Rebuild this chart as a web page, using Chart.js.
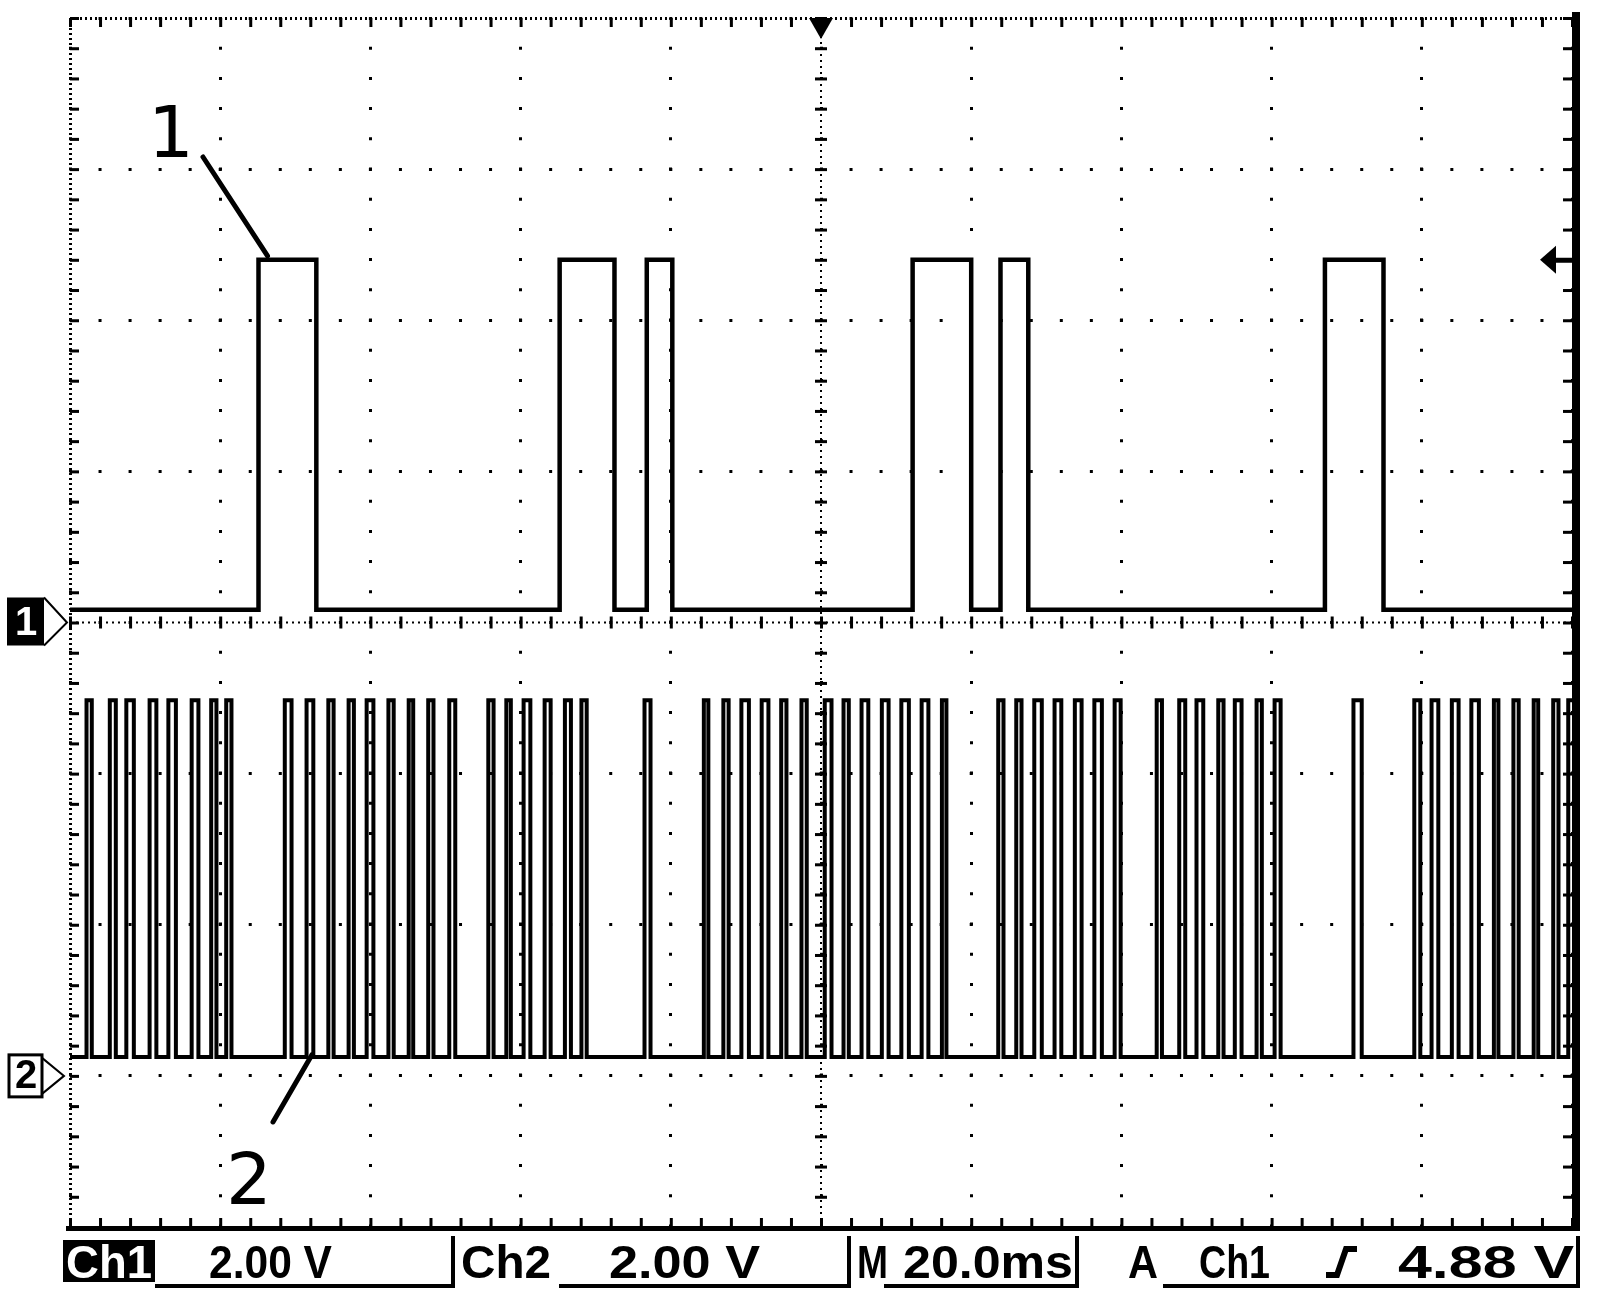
<!DOCTYPE html>
<html>
<head>
<meta charset="utf-8">
<script src="https://cdn.jsdelivr.net/npm/chart.js@4.4.1/dist/chart.umd.min.js"></script>
<style>
  html, body { margin: 0; padding: 0; background: #fff; }
  #wrap { position: relative; width: 1600px; height: 1308px; }
</style>
</head>
<body>
<div id="wrap"><canvas id="scope"></canvas></div>
<script>
// scope settings: 20 ms/div over 10 divs, 2.00 V/div over 8 divs
const timeTicks = [0, 20, 40, 60, 80, 100, 120, 140, 160, 180, 200];
const voltTicks = [-8, -6, -4, -2, 0, 2, 4, 6, 8];
const triggerTime = 100;
const triggerLevel = 4.88;

// channel 1: [rise, fall] in ms
const ch1Pulses = [[25.1, 32.8], [65.2, 72.5], [76.8, 80.2], [112.2, 120.0], [123.9, 127.6], [167.1, 174.9]];
const ch1Low = 0.17;
const ch1High = 4.8;

// channel 2: [rise, fall] in ms
const ch2Pulses = [
  [2.2, 2.9], [5.3, 6.1], [7.5, 8.5], [10.6, 11.5], [13.1, 14.1], [16.2, 17.1], [18.8, 19.5], [20.8, 21.5],
  [28.6, 29.5], [31.5, 32.4], [34.4, 35.1], [37.1, 37.8], [39.5, 40.4], [42.4, 43.1], [45.1, 45.7], [47.7, 48.4], [50.5, 51.3],
  [55.7, 56.4], [58.1, 58.7], [60.4, 61.3], [63.2, 64.0], [65.9, 66.7], [68.1, 68.8],
  [76.5, 77.3],
  [84.4, 85.0], [87.0, 87.7], [89.4, 90.4], [92.1, 93.0], [94.7, 95.4], [97.4, 98.1], [100.5, 101.4], [103.0, 103.7],
  [105.4, 106.3], [108.1, 109.0], [110.7, 111.7], [113.4, 114.3], [116.1, 116.7],
  [123.6, 124.3], [126.0, 126.7], [128.4, 129.4], [131.1, 132.0], [133.8, 134.7], [136.4, 137.4], [139.1, 139.9],
  [144.7, 145.4], [147.7, 148.5], [150.0, 150.9], [152.9, 153.6], [155.1, 156.0], [158.0, 158.7], [160.4, 161.2],
  [170.9, 172.0],
  [179.0, 179.8], [181.3, 182.2], [184.0, 184.9], [186.6, 187.6], [189.6, 190.2], [192.2, 192.9], [194.9, 195.5], [197.5, 198.2], [199.5, 200]
];
const ch2Low = 0.25;
const ch2High = 4.97;
const ch2Offset = -6; // ground marker 3 divisions below centre

const statusText = ["Ch1", "2.00 V", "Ch2", "2.00 V", "M", "20.0ms", "A", "Ch1", "4.88 V"];

function toTrace(pulses, lo, hi, off) {
  const end = timeTicks[timeTicks.length - 1];
  const pts = [{x: 0, y: lo + off}];
  let high = false;
  pulses.forEach(([r, f]) => {
    pts.push({x: r, y: lo + off}, {x: r, y: hi + off});
    if (f < end) {
      pts.push({x: f, y: hi + off}, {x: f, y: lo + off});
    } else {
      pts.push({x: end, y: hi + off});
      high = true;
    }
  });
  if (!high) pts.push({x: end, y: lo + off});
  return pts;
}

function fitText(ctx, str, x1, x2, base, font, color) {
  ctx.font = font;
  const w = ctx.measureText(str).width;
  ctx.save();
  ctx.translate(x1, base);
  ctx.scale((x2 - x1) / w, 1);
  ctx.fillStyle = color;
  ctx.textAlign = 'left';
  ctx.textBaseline = 'alphabetic';
  ctx.fillText(str, 0, 0);
  ctx.restore();
}

const scopeDecor = {
  id: 'scopeDecor',
  afterDatasetsDraw(chart) {
    const {ctx, chartArea: a, scales: {x, y}} = chart;
    const minX = (a.right - a.left) / 50;
    const minY = (a.bottom - a.top) / 40;
    const cx = x.getPixelForValue(triggerTime);
    const cy = y.getPixelForValue(0);
    ctx.save();
    ctx.fillStyle = '#000';

    // centre lines: fine dots + minor ticks
    for (let yy = a.top; yy <= a.bottom; yy += 6) ctx.fillRect(cx - 1, yy, 2, 2);
    for (let i = 0; i <= 40; i++) ctx.fillRect(cx - 6, a.top + i * minY - 1, 12, 3);
    for (let xx = a.left; xx <= a.right; xx += 6) ctx.fillRect(xx, cy - 1, 2, 2);
    for (let i = 0; i <= 50; i++) ctx.fillRect(a.left + i * minX - 1, cy - 6, 3, 12);

    // left and top borders
    for (let yy = a.top; yy <= a.bottom; yy += 5) ctx.fillRect(a.left - 1, yy, 3, 2);
    for (let i = 0; i <= 40; i++) ctx.fillRect(a.left, a.top + i * minY - 1, 9, 3);
    for (let xx = a.left; xx <= a.right; xx += 5) ctx.fillRect(xx, a.top - 1, 2, 3);
    for (let i = 0; i <= 50; i++) ctx.fillRect(a.left + i * minX - 1, a.top, 3, 9);

    // right and bottom borders (solid)
    ctx.fillRect(a.right, a.top - 6, 8, a.bottom - a.top + 10);
    for (let i = 0; i <= 40; i++) ctx.fillRect(a.right - 9, a.top + i * minY - 1, 9, 3);
    ctx.fillRect(a.left - 4, a.bottom - 1, a.right - a.left + 12, 5);
    for (let i = 0; i <= 50; i++) ctx.fillRect(a.left + i * minX - 1, a.bottom - 9, 3, 9);

    // trigger position marker
    ctx.beginPath();
    ctx.moveTo(cx - 12, a.top);
    ctx.lineTo(cx + 12, a.top);
    ctx.lineTo(cx, a.top + 21);
    ctx.closePath();
    ctx.fill();

    // trigger level arrow
    const ty = y.getPixelForValue(triggerLevel) + 6;
    ctx.beginPath();
    ctx.moveTo(a.right - 32, ty);
    ctx.lineTo(a.right - 16, ty - 14);
    ctx.lineTo(a.right - 16, ty + 14);
    ctx.closePath();
    ctx.fill();
    ctx.fillRect(a.right - 17, ty - 2, 17, 5);

    // channel 1 ground marker
    ctx.fillRect(7, cy - 25, 37, 48);
    ctx.lineWidth = 2;
    ctx.strokeStyle = '#000';
    ctx.beginPath();
    ctx.moveTo(44, cy - 25);
    ctx.lineTo(a.left - 3, cy);
    ctx.lineTo(44, cy + 23);
    ctx.stroke();
    ctx.font = 'bold 40px "Liberation Sans Narrow", "Liberation Sans"';
    ctx.fillStyle = '#fff';
    ctx.textAlign = 'center';
    ctx.textBaseline = 'middle';
    ctx.fillText('1', 26, cy + 1);

    // channel 2 ground marker
    const c2 = y.getPixelForValue(ch2Offset);
    ctx.lineWidth = 3;
    ctx.strokeRect(9, c2 - 21, 33, 42);
    ctx.lineWidth = 2;
    ctx.beginPath();
    ctx.moveTo(42, c2 - 18);
    ctx.lineTo(a.left - 6, c2);
    ctx.lineTo(42, c2 + 18);
    ctx.stroke();
    ctx.fillStyle = '#000';
    ctx.fillText('2', 26, c2 + 1);

    // trace labels with leader lines
    ctx.lineWidth = 5;
    ctx.lineCap = 'round';
    ctx.beginPath();
    ctx.moveTo(203, 157);
    ctx.lineTo(x.getPixelForValue(ch1Pulses[0][0]) + 9, y.getPixelForValue(ch1High) - 4);
    ctx.moveTo(273, 1122);
    ctx.lineTo(x.getPixelForValue(32.2), y.getPixelForValue(ch2Low + ch2Offset) - 2);
    ctx.stroke();
    ctx.font = '72px "DejaVu Sans", "Liberation Sans"';
    ctx.textAlign = 'left';
    ctx.textBaseline = 'alphabetic';
    ctx.fillText('1', 148, 157);
    ctx.fillText('2', 226, 1204);

    // status bar
    const f = 'bold 46px "Liberation Sans Narrow", "Liberation Sans"';
    ctx.fillRect(63, 1240, 92, 42);
    fitText(ctx, statusText[0], 66, 152, 1278, f, '#fff');
    fitText(ctx, statusText[1], 209, 332, 1278, f, '#000');
    fitText(ctx, statusText[2], 461, 551, 1278, f, '#000');
    fitText(ctx, statusText[3], 609, 760, 1278, f, '#000');
    fitText(ctx, statusText[4], 857, 888, 1278, f, '#000');
    fitText(ctx, statusText[5], 903, 1073, 1278, f, '#000');
    fitText(ctx, statusText[6], 1128, 1158, 1278, f, '#000');
    fitText(ctx, statusText[7], 1199, 1270, 1278, f, '#000');
    fitText(ctx, statusText[8], 1398, 1574, 1278, f, '#000');
    ctx.fillStyle = '#000';
    ctx.fillRect(155, 1284, 299, 4);
    ctx.fillRect(451, 1236, 4, 52);
    ctx.fillRect(559, 1284, 292, 4);
    ctx.fillRect(847, 1236, 4, 52);
    ctx.fillRect(884, 1284, 194, 4);
    ctx.fillRect(1075, 1236, 4, 52);
    ctx.fillRect(1163, 1284, 417, 4);
    ctx.fillRect(1576, 1236, 4, 52);
    // rising-edge slope symbol
    ctx.lineWidth = 6;
    ctx.lineCap = 'butt';
    ctx.beginPath();
    ctx.moveTo(1326, 1275);
    ctx.lineTo(1337, 1275);
    ctx.lineTo(1346, 1249);
    ctx.lineTo(1357, 1249);
    ctx.stroke();
    ctx.restore();
  }
};

new Chart(document.getElementById('scope'), {
  type: 'line',
  data: {
    datasets: [
      {
        label: 'Ch1',
        data: toTrace(ch1Pulses, ch1Low, ch1High, 0),
        borderColor: '#000',
        borderWidth: 4.5,
        pointRadius: 0,
        tension: 0,
        fill: false
      },
      {
        label: 'Ch2',
        data: toTrace(ch2Pulses, ch2Low, ch2High, ch2Offset),
        borderColor: '#000',
        borderWidth: 4,
        pointRadius: 0,
        tension: 0,
        fill: false
      }
    ]
  },
  options: {
    responsive: true,
    maintainAspectRatio: false,
    animation: false,
    layout: { padding: { left: 70, top: 18, right: 28, bottom: 81 } },
    plugins: {
      legend: { display: false },
      tooltip: { enabled: false },
      title: { display: false }
    },
    scales: {
      x: {
        type: 'linear',
        min: timeTicks[0],
        max: timeTicks[timeTicks.length - 1],
        afterBuildTicks: (s) => { s.ticks = timeTicks.map(v => ({value: v})); },
        ticks: { display: false },
        grid: { color: '#000', lineWidth: 3, drawTicks: false },
        border: { display: false, dash: [3, 27.2], dashOffset: 1.5 }
      },
      y: {
        type: 'linear',
        min: voltTicks[0],
        max: voltTicks[voltTicks.length - 1],
        afterBuildTicks: (s) => { s.ticks = voltTicks.map(v => ({value: v})); },
        ticks: { display: false },
        grid: { color: '#000', lineWidth: 3, drawTicks: false },
        border: { display: false, dash: [3, 27.04], dashOffset: 1.5 }
      }
    }
  },
  plugins: [scopeDecor]
});
</script>
</body>
</html>
